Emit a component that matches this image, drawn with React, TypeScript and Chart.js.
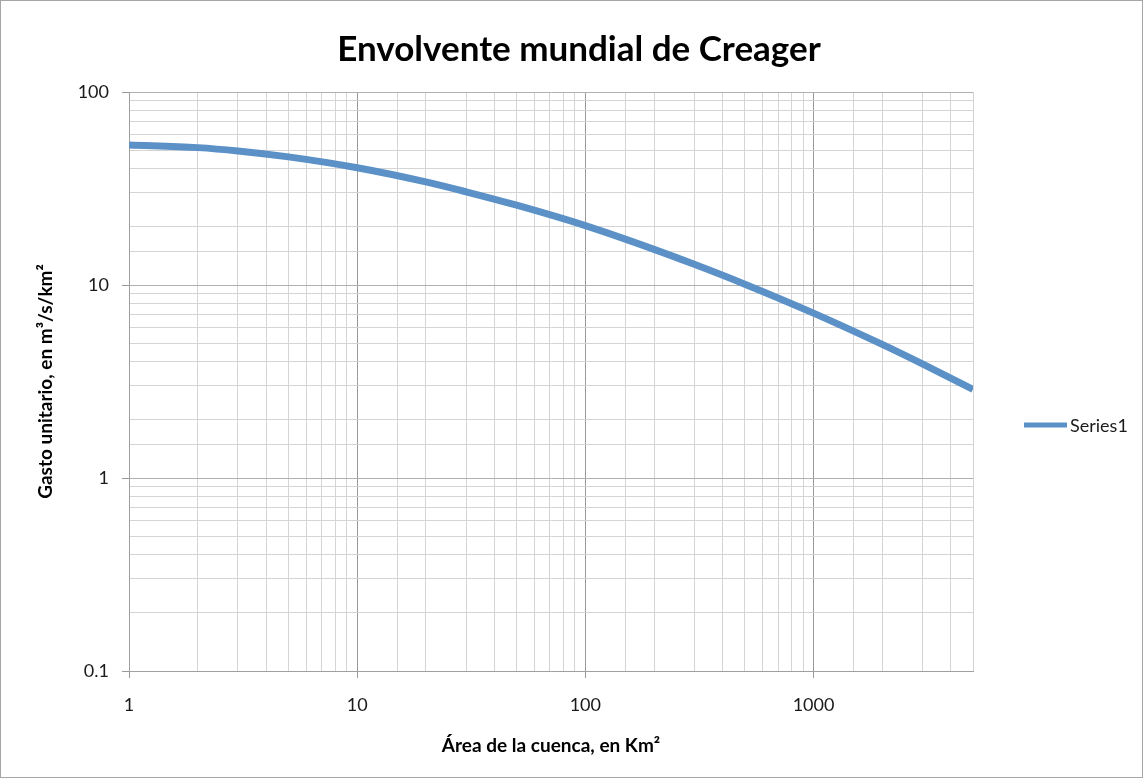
import React, { useEffect, useRef } from "react";
import { Chart, registerables } from "chart.js";

Chart.register(...registerables);

const TITLE = "Envolvente mundial de Creager";
const X_TITLE = "Área de la cuenca, en Km²";
const Y_TITLE = "Gasto unitario, en m³/s/km²";
const SERIES_LABEL = "Series1";

// Area of basin (km²)
const areas = [1, 2, 3, 5, 10, 20, 30, 50, 100, 200, 300, 500, 1000, 2000, 3000, 5000];
// Unit discharge (m³/s/km²)
const gasto = [53.2, 51.5, 49.5, 46.1, 40.5, 34.2, 30.4, 25.9, 20.3, 15.3, 12.8, 10.1, 7.15, 4.92, 3.9, 2.88];

const X_MIN = 1;
const X_MAX = 5000;
const Y_MIN = 0.1;
const Y_MAX = 100;

const LINE_COLOR = "#5b91c7";
const FONT = "Lato, 'DejaVu Sans', sans-serif";

const isMajor = (v: number) => {
  const l = Math.log10(v);
  return Math.abs(l - Math.round(l)) < 1e-6;
};
const fmt = (v: number) => String(Number(v.toPrecision(6)));

const titlePlugin = {
  id: "customTitle",
  afterDraw(chart: any) {
    const ctx = chart.ctx;
    ctx.save();
    ctx.fillStyle = "#000";
    ctx.font = `bold 35px ${FONT}`;
    ctx.textAlign = "center";
    ctx.textBaseline = "middle";
    ctx.fillText(TITLE, 578, 49);
    ctx.restore();
  },
};

const legendPlugin = {
  id: "customLegend",
  afterDraw(chart: any) {
    const ctx = chart.ctx;
    const ds = chart.data.datasets[0];
    const y = 424;
    ctx.save();
    ctx.strokeStyle = ds.borderColor;
    ctx.lineWidth = 5;
    ctx.beginPath();
    ctx.moveTo(1023, y);
    ctx.lineTo(1066, y);
    ctx.stroke();
    ctx.fillStyle = "#1a1a1a";
    ctx.font = `18px ${FONT}`;
    ctx.textBaseline = "middle";
    ctx.textAlign = "left";
    ctx.fillText(ds.label, 1069, y + 1);
    ctx.restore();
  },
};

export default function App() {
  const ref = useRef<HTMLCanvasElement | null>(null);

  useEffect(() => {
    if (!ref.current) return;
    const chart = new Chart(ref.current, {
      type: "line",
      data: {
        datasets: [
          {
            label: SERIES_LABEL,
            data: areas.map((a, i) => ({ x: a, y: gasto[i] })),
            borderColor: LINE_COLOR,
            backgroundColor: LINE_COLOR,
            borderWidth: 7,
            pointRadius: 0,
            cubicInterpolationMode: "monotone",
            fill: false,
          },
        ],
      },
      plugins: [titlePlugin, legendPlugin],
      options: {
        animation: false,
        responsive: false,
        maintainAspectRatio: false,
        layout: { padding: { left: 10, right: 169, top: 91, bottom: 0 } },
        plugins: {
          legend: { display: false },
          tooltip: { enabled: false },
          title: { display: false },
        },
        scales: {
          x: {
            type: "logarithmic",
            min: X_MIN,
            max: X_MAX,
            afterFit: (s: any) => {
              s.height = 106;
            },
            border: { color: "#a0a0a0", width: 1 },
            grid: {
              color: (c: any) => (c.tick && isMajor(c.tick.value) ? "#9a9a9a" : "#d4d4d4"),
              tickColor: (c: any) => (c.tick && isMajor(c.tick.value) ? "#9a9a9a" : "rgba(0,0,0,0)"),
              tickLength: 7,
              lineWidth: 1,
            },
            ticks: {
              autoSkip: false,
              maxRotation: 0,
              padding: 16,
              color: "#1a1a1a",
              font: { family: FONT, size: 18 },
              callback: (v: any) => (isMajor(Number(v)) ? fmt(Number(v)) : ""),
            },
            title: {
              display: true,
              text: X_TITLE,
              color: "#000",
              font: { family: FONT, size: 19, weight: "bold", lineHeight: 1.2 },
              padding: { top: 20, bottom: 20 },
            },
          },
          y: {
            type: "logarithmic",
            min: Y_MIN,
            max: Y_MAX,
            afterFit: (s: any) => {
              s.width = 118;
            },
            border: { color: "#a0a0a0", width: 1 },
            grid: {
              color: (c: any) => (c.tick && isMajor(c.tick.value) ? "#b0b0b0" : "#d4d4d4"),
              tickColor: (c: any) => (c.tick && isMajor(c.tick.value) ? "#9a9a9a" : "rgba(0,0,0,0)"),
              tickLength: 7,
              lineWidth: 1,
            },
            ticks: {
              autoSkip: false,
              padding: 13,
              color: "#1a1a1a",
              font: { family: FONT, size: 18 },
              callback: (v: any) => (isMajor(Number(v)) ? fmt(Number(v)) : ""),
            },
            title: {
              display: true,
              text: Y_TITLE,
              color: "#000",
              font: { family: FONT, size: 19, weight: "bold", lineHeight: 1.2 },
              padding: { top: 23, bottom: 0 },
            },
          },
        },
      },
    } as any);
    return () => chart.destroy();
  }, []);

  return (
    <div
      style={{
        position: "fixed",
        left: 0,
        top: 0,
        width: 1143,
        height: 778,
        boxSizing: "border-box",
        border: "1px solid #a6a6a6",
        background: "#fff",
      }}
    >
      <canvas ref={ref} width={1141} height={776} style={{ display: "block", width: 1141, height: 776 }} />
    </div>
  );
}
